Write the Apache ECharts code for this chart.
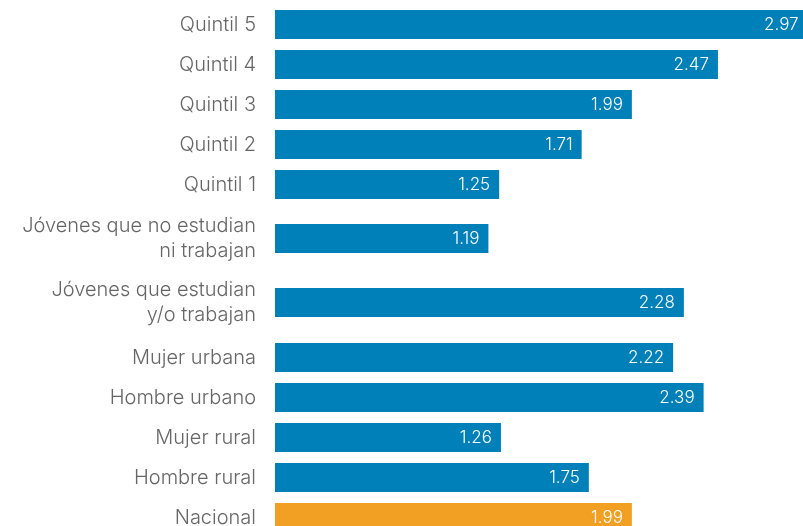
<!DOCTYPE html>
<html>
<head>
<meta charset="utf-8">
<script src="https://cdn.jsdelivr.net/npm/echarts@6/dist/echarts.min.js"></script>
<style>
  html, body { margin: 0; padding: 0; background: #fff; }
  #main { width: 803px; height: 526px; }
</style>
</head>
<body>
<div id="main"></div>
<script>
// categorias de arriba hacia abajo
var categories = [
  'Quintil 5', 'Quintil 4', 'Quintil 3', 'Quintil 2', 'Quintil 1',
  'Jóvenes que no estudian\nni trabajan',
  'Jóvenes que estudian\ny/o trabajan',
  'Mujer urbana', 'Hombre urbano', 'Mujer rural', 'Hombre rural', 'Nacional'
];
var values = [2.97, 2.47, 1.99, 1.71, 1.25, 1.19, 2.28, 2.22, 2.39, 1.26, 1.75, 1.99];
var highlight = 'Nacional';

// bloques de filas (las de dos lineas llevan mas espacio)
var blocks = [[0, 5], [5, 6], [6, 7], [7, 12]];
var blockTops = [4.5, 218.5, 282.5, 337.5];
var rowH = 40;

var blue = '#0080b9';
var orange = '#f2a024';

var myChart = echarts.init(document.getElementById('main'));

var grids = [], xAxes = [], yAxes = [], series = [];
blocks.forEach(function (b, i) {
  var cats = categories.slice(b[0], b[1]);
  var vals = values.slice(b[0], b[1]);
  grids.push({
    left: 275, width: 538, top: blockTops[i], height: rowH * cats.length,
    outerBoundsMode: 'none', containLabel: false
  });
  xAxes.push({
    gridIndex: i, type: 'value', min: 0, max: 3,
    show: false
  });
  yAxes.push({
    gridIndex: i, type: 'category', data: cats, inverse: true,
    axisLine: { show: false }, axisTick: { show: false }, splitLine: { show: false },
    axisLabel: {
      margin: 19, color: '#666', fontSize: 20, lineHeight: 25,
      fontFamily: 'Inter', fontWeight: 300, align: 'right'
    }
  });
  series.push({
    type: 'bar', xAxisIndex: i, yAxisIndex: i, barWidth: 29,
    data: vals.map(function (v, k) {
      return {
        value: v,
        itemStyle: { color: cats[k] === highlight ? orange : blue }
      };
    }),
    label: {
      show: true, position: 'insideRight', distance: 9,
      color: '#fff', fontSize: 17, fontFamily: 'Inter', fontWeight: 300,
      formatter: function (p) { return p.value.toFixed(2); }
    },
    silent: true
  });
});

myChart.setOption({
  animation: false,
  grid: grids,
  xAxis: xAxes,
  yAxis: yAxes,
  series: series
});
</script>
</body>
</html>
